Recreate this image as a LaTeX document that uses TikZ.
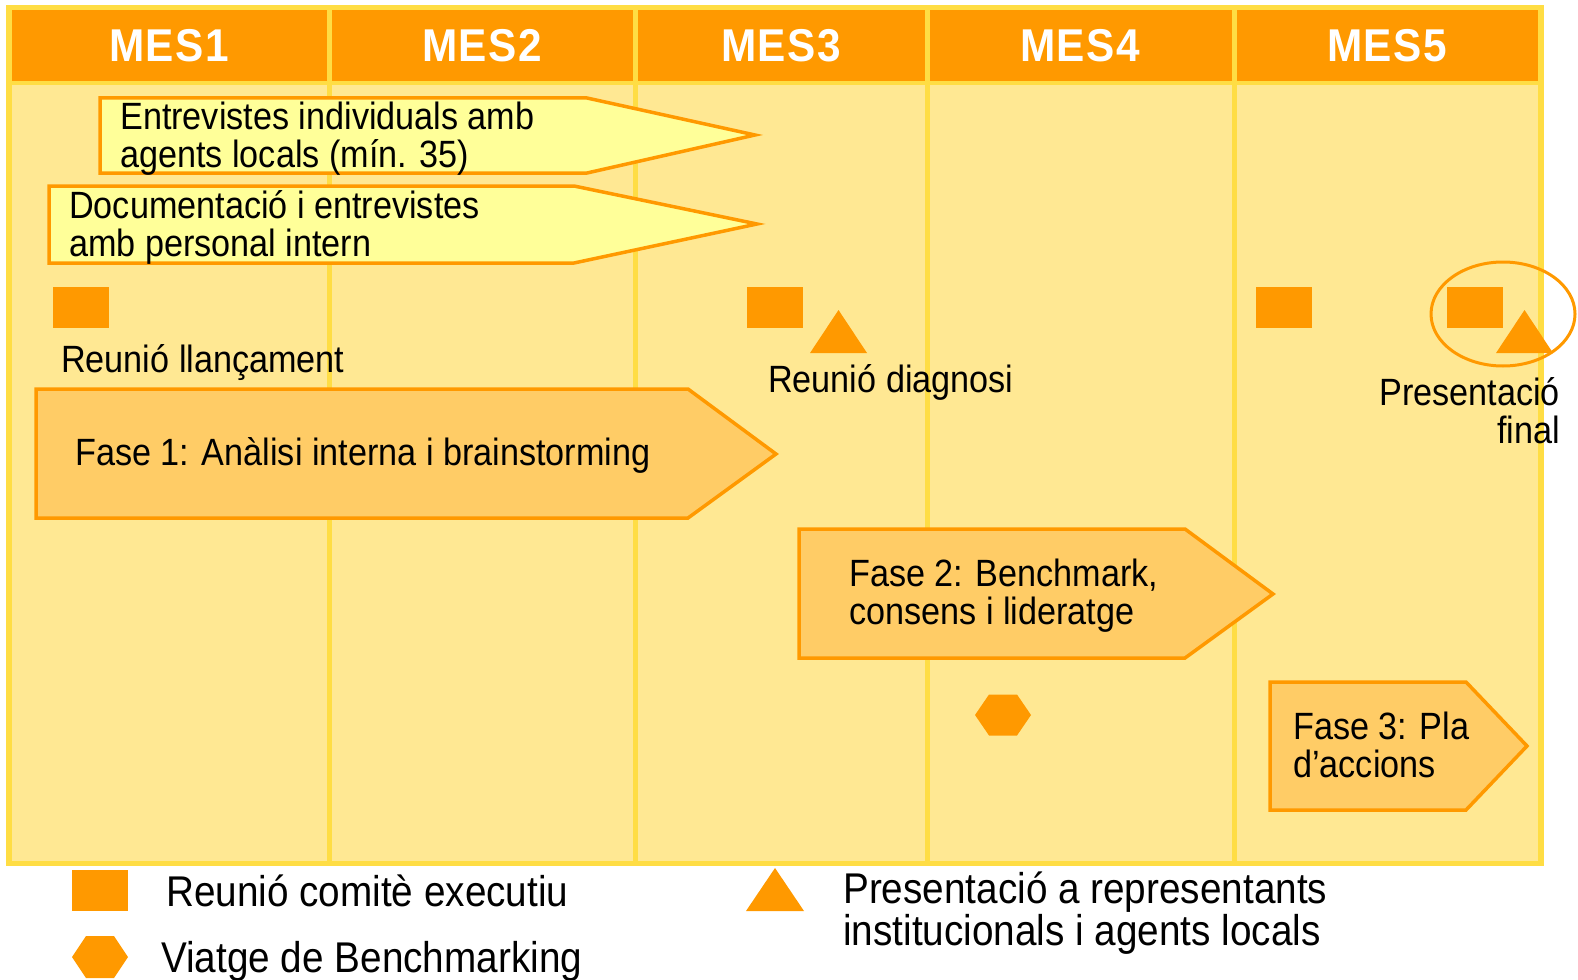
\documentclass[tikz,border=0pt]{standalone}
\usepackage{fontspec}
\setmainfont[FakeStretch=0.9]{Liberation Sans}
\newfontfamily\hdrfont[FakeStretch=0.92,LetterSpace=3]{Liberation Sans}
\usetikzlibrary{shapes.geometric}
\definecolor{hdr}{HTML}{FF9900}
\definecolor{frm}{HTML}{FFDD44}
\definecolor{bodyc}{HTML}{FFE893}
\definecolor{lite}{HTML}{FFFF99}
\definecolor{phase}{HTML}{FFCC66}
\tikzset{
  hdrtxt/.style={text=white, font=\hdrfont\bfseries\fontsize{46}{46}\selectfont, inner sep=0},
  txt/.style={text=black, font=\fontsize{38}{38}\selectfont, inner sep=0, align=left},
  legtxt/.style={text=black, font=\fontsize{43}{42.5}\selectfont, inner sep=0, align=left},
  outl/.style={draw=hdr, line width=3.5, line join=miter},
  sq/.style={rectangle, fill=hdr, minimum width=56, minimum height=41, inner sep=0},
}
\begin{document}
\begin{tikzpicture}[x=1pt,y=-1pt]
\useasboundingbox (0,0) rectangle (1578,979);
% frame
\fill[frm] (6,5) rectangle (1544,866);
\foreach \l/\r in {9/329,329/635,635/927,927/1234,1234/1540}{
  \fill[hdr] (\l+2.5,10) rectangle (\r-2.5,81);
  \fill[bodyc] (\l+2.5,85) rectangle (\r-2.5,861);
}
\node[hdrtxt] (m1) at (169,46) {MES1};
\node[hdrtxt] (m2) at (482,46) {MES2};
\node[hdrtxt] (m3) at (781,46) {MES3};
\node[hdrtxt] (m4) at (1080,46) {MES4};
\node[hdrtxt] (m5) at (1387,46) {MES5};
% activity arrows
\draw[outl, fill=lite] (100,98) -- (587,98) -- (755,135) -- (587,173) -- (100,173) -- cycle;
\node[txt, anchor=west] (a1) at (120,139) {Entrevistes individuals amb\\agents locals (mín. 35)};
\draw[outl, fill=lite] (49,186) -- (574,186) -- (757,224) -- (574,263) -- (49,263) -- cycle;
\node[txt, anchor=west] (a2) at (69,227) {Documentació i entrevistes\\amb personal intern};
% milestones
\node[sq] (s1) at (81,307.5) {};
\node[txt, anchor=west] (l1) at (61,363) {Reunió llançament};
\node[sq] (s2) at (774.5,307.5) {};
\fill[hdr] (810,353) -- (838.5,310) -- (867,353) -- cycle;
\node[txt, anchor=west] (l2) at (768,382) {Reunió diagnosi};
\node[sq] (s3) at (1283.5,307.5) {};
\node[sq] (s4) at (1475,307.5) {};
\fill[hdr] (1496,353) -- (1524.5,310) -- (1553,353) -- cycle;
\draw[hdr, line width=3] (1503,314) ellipse [x radius=72, y radius=52];
\node[txt, anchor=east, align=right] (l3) at (1560,411) {Presentació\\final};
% phases
\draw[outl, fill=phase] (36,389) -- (688,389) -- (776,454) -- (688,518) -- (36,518) -- cycle;
\node[txt, anchor=west] (f1) at (75,455) {Fase 1: Anàlisi interna i brainstorming};
\draw[outl, fill=phase] (799,529) -- (1185,529) -- (1273,594) -- (1185,658) -- (799,658) -- cycle;
\node[txt, anchor=west] (f2) at (849,596) {Fase 2: Benchmark,\\consens i lideratge};
\fill[hdr] (975,715) -- (989,694.5) -- (1017,694.5) -- (1031,715) -- (1017,735.5) -- (989,735.5) -- cycle;
\draw[outl, fill=phase] (1270,682) -- (1466,682) -- (1527,746) -- (1466,810) -- (1270,810) -- cycle;
\node[txt, anchor=west] (f3) at (1293,745) {Fase 3: Pla\\d’accions};
% legend
\node[sq] (ls) at (100,890) {};
\node[legtxt, anchor=west] (lt1) at (166,891) {Reunió comitè executiu};
\fill[hdr] (72,957) -- (86,936) -- (114,936) -- (128,957) -- (114,978) -- (86,978) -- cycle;
\node[legtxt, anchor=west] (lt2) at (161,961) {Viatge de Benchmarking};
\fill[hdr] (746,911) -- (775,868) -- (804,911) -- cycle;
\node[legtxt, anchor=west] (lt3) at (843,913) {Presentació a representants\\institucionals i agents locals};
\end{tikzpicture}
\end{document}
